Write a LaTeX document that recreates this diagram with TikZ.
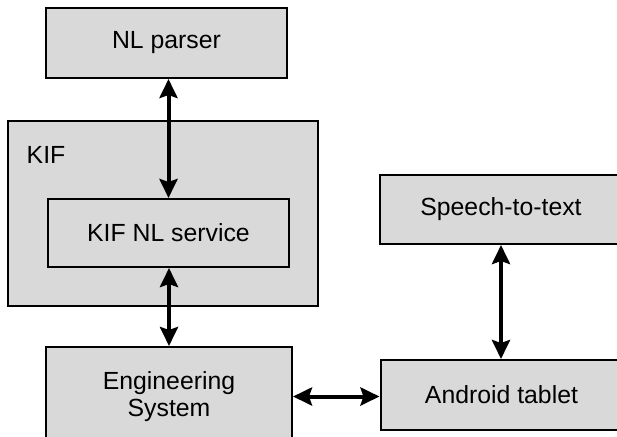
\documentclass[tikz,border=0pt]{standalone}
\usepackage{fontspec}
\setmainfont{Liberation Sans}
\usetikzlibrary{arrows.meta}

\tikzset{
    block/.style={draw, line width=1pt, fill=gray!30, inner sep=0pt, align=center,
        font=\fontsize{12.4}{13.5}\selectfont},
    link/.style={line width=2pt,
        {Stealth[length=9.5pt, width=9pt, inset=1.5pt]}-{Stealth[length=9.5pt, width=9pt, inset=1.5pt]}}
}

\begin{document}
\begin{tikzpicture}[x=0.5pt, y=-0.5pt]
    \useasboundingbox (0, 0) rectangle (617, 436);

    % KIF container
    \node[block, minimum width=155pt, minimum height=92.5pt] (kif) at (163, 213.5) {};
    \node[font=\fontsize{12.4}{13.5}\selectfont] (kiflabel) at (46, 155) {KIF};
    \node[block, minimum width=120.5pt, minimum height=34pt] (service) at (168.5, 233) {KIF NL service};

    % other blocks
    \node[block, minimum width=120.5pt, minimum height=35pt] (parser) at (166.5, 43) {NL parser};
    \node[block, minimum width=123pt, minimum height=49.5pt] (engsys) at (169, 396.5) {Engineering\\System};
    \node[block, minimum width=121pt, minimum height=35pt] (tablet) at (501.5, 395) {Android tablet};
    \node[block, minimum width=121pt, minimum height=34.5pt] (speech) at (501, 209.5) {Speech-to-text};

    % links
    \draw[link] (service.north |- parser.south) -- (service.north);
    \draw[link] (engsys.north |- service.south) -- (engsys.north);
    \draw[link] (speech.south) -- (speech.south |- tablet.north);
    \draw[link] (engsys.east) -- (engsys.east -| tablet.west);
\end{tikzpicture}
\end{document}
